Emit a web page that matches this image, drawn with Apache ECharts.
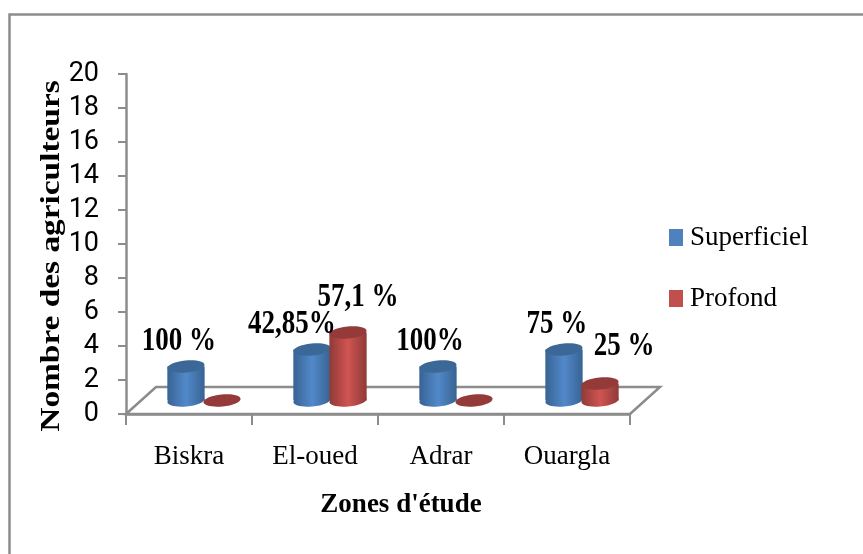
<!DOCTYPE html>
<html>
<head>
<meta charset="utf-8">
<style>html,body{margin:0;background:#fff}#chart{width:863px;height:554px}</style>
<script src="https://cdn.jsdelivr.net/npm/echarts@6/dist/echarts.min.js"></script>
</head>
<body>
<div id="chart"></div>
<script>
const zones = ['Biskra', 'El-oued', 'Adrar', 'Ouargla'];
const superficiel = [2, 3, 2, 3];
const profond = [0, 4, 0, 1];
const superficielLabels = ['100 %', '42,85%', '100%', '75 %'];
const profondLabels = ['', '57,1 %', '', '25 %'];

// Hand placement of the percentage labels relative to each cylinder's top.
const superficielLabelShift = [[-7, -25], [-20, -25], [-8, -25], [-7, -25]];
const profondLabelShift = [[0, 0], [10, -35], [0, 0], [24, -37]];

const SERIF = '"Liberation Serif", "Times New Roman", serif';
const TICK_FONT = 'Roboto, "Liberation Sans", sans-serif';
const AXIS_GREY = '#8c8c8c';
const DEPTH = [30, -27];   // offset of the back edge of the floor
const TILT = 0.1;          // slant of the elliptical caps, radians

function shade(edge, mid) {
  return {
    type: 'linear', x: 0, y: 0, x2: 1, y2: 0,
    colorStops: [
      { offset: 0, color: edge },
      { offset: 0.5, color: mid },
      { offset: 1, color: edge }
    ]
  };
}

function cylinderSeries(name, values, labels, shifts, palette, side) {
  return {
    name: name,
    type: 'custom',
    coordinateSystem: 'cartesian2d',
    itemStyle: { color: palette.legend },
    z: 3,
    clip: false,
    data: values.map((v, i) => [i, v]),
    renderItem(params, api) {
      const i = api.value(0);
      const v = api.value(1);
      const band = api.size([1, 0])[0];
      const rx = band * 0.148;
      const ry = 6;
      const top = api.coord([i, v]);
      const base = api.coord([i, 0]);
      const cx = top[0] + DEPTH[0] / 2 + side * band * 0.143;
      const yTop = top[1] + DEPTH[1] / 2;
      const yBase = base[1] + DEPTH[1] / 2;
      const cap = (y) => ({
        type: 'ellipse',
        shape: { cx: cx, cy: y, rx: rx, ry: ry },
        rotation: TILT, originX: cx, originY: y
      });
      const children = [];
      if (v > 0) {
        const fill = shade(palette.edge, palette.mid);
        children.push(Object.assign(cap(yBase), { style: { fill: fill } }));
        children.push({
          type: 'rect',
          shape: { x: cx - rx, y: yTop, width: rx * 2, height: yBase - yTop },
          style: { fill: fill }
        });
      }
      children.push(Object.assign(cap(yTop), { style: { fill: palette.cap } }));
      if (labels[i]) {
        children.push({
          type: 'text',
          z2: 100,
          x: cx + shifts[i][0],
          y: yTop + shifts[i][1],
          scaleY: 1.25,
          style: {
            text: labels[i],
            fill: '#000',
            font: 'bold 27px ' + SERIF,
            align: 'center',
            verticalAlign: 'middle'
          }
        });
      }
      return { type: 'group', children: children };
    }
  };
}

// Parallelogram floor that the cylinders stand on.
const floorSeries = {
  type: 'custom',
  coordinateSystem: 'cartesian2d',
  z: 1,
  clip: false,
  silent: true,
  data: [[0, 0]],
  renderItem(params, api) {
    const band = api.size([1, 0])[0];
    const o = api.coord([0, 0]);
    const left = o[0] - band / 2;
    const right = left + band * zones.length;
    const y = o[1];
    return {
      type: 'polygon',
      shape: {
        points: [
          [left, y],
          [left + DEPTH[0], y + DEPTH[1]],
          [right + DEPTH[0], y + DEPTH[1]],
          [right, y]
        ]
      },
      style: { fill: '#fff', stroke: AXIS_GREY, lineWidth: 2.5 }
    };
  }
};

const chart = echarts.init(document.getElementById('chart'), null, { renderer: 'canvas' });
chart.setOption({
  animation: false,
  backgroundColor: '#fff',
  grid: { left: 126, right: 233, top: 74, height: 340 },
  legend: {
    orient: 'vertical',
    left: 669,
    top: 224,
    padding: 0,
    icon: 'rect',
    itemWidth: 14,
    itemHeight: 17,
    itemGap: 34,
    data: ['Superficiel', 'Profond'],
    selectedMode: false,
    textStyle: { fontFamily: SERIF, fontSize: 27, color: '#000', padding: [0, 0, 0, 2] }
  },
  xAxis: {
    type: 'category',
    data: zones,
    name: "Zones d'étude",
    nameLocation: 'middle',
    nameGap: 78,
    nameTextStyle: { fontFamily: SERIF, fontSize: 27, fontWeight: 'bold', color: '#000', padding: [0, 0, 0, 46] },
    axisLine: { lineStyle: { color: AXIS_GREY, width: 2.5 } },
    axisTick: { show: true, length: 11, lineStyle: { color: AXIS_GREY, width: 2 } },
    axisLabel: { fontFamily: SERIF, fontSize: 27, color: '#000', margin: 29 }
  },
  yAxis: {
    type: 'value',
    min: 0,
    max: 20,
    interval: 2,
    splitLine: { show: false },
    axisLine: { show: true, lineStyle: { color: AXIS_GREY, width: 2.5 } },
    axisTick: { show: true, length: 8, lineStyle: { color: AXIS_GREY, width: 2 } },
    axisLabel: { fontFamily: TICK_FONT, fontSize: 27, color: '#000', margin: 27 }
  },
  graphic: [
    // Outer chart frame; only its top and left sides fall inside the canvas.
    {
      type: 'polyline',
      silent: true,
      shape: { points: [[9.5, 560], [9.5, 14.5], [870, 14.5]] },
      style: { fill: 'none', stroke: '#8c8c8c', lineWidth: 2.5 }
    },
    // Value axis title, lengthened along its reading direction.
    {
      type: 'text',
      silent: true,
      x: 52,
      y: 256,
      rotation: Math.PI / 2,
      scaleX: 1.235,
      style: {
        text: 'Nombre des agriculteurs',
        fill: '#000',
        font: 'bold 27px ' + SERIF,
        align: 'center',
        verticalAlign: 'middle'
      }
    }
  ],
  series: [
    floorSeries,
    cylinderSeries('Superficiel', superficiel, superficielLabels, superficielLabelShift,
      { legend: '#4f81bd', edge: '#386393', mid: '#5289ca', cap: '#3b6896' }, -1),
    cylinderSeries('Profond', profond, profondLabels, profondLabelShift,
      { legend: '#c0504d', edge: '#8f3a38', mid: '#cf5552', cap: '#943a38' }, 1)
  ]
});
</script>
</body>
</html>
